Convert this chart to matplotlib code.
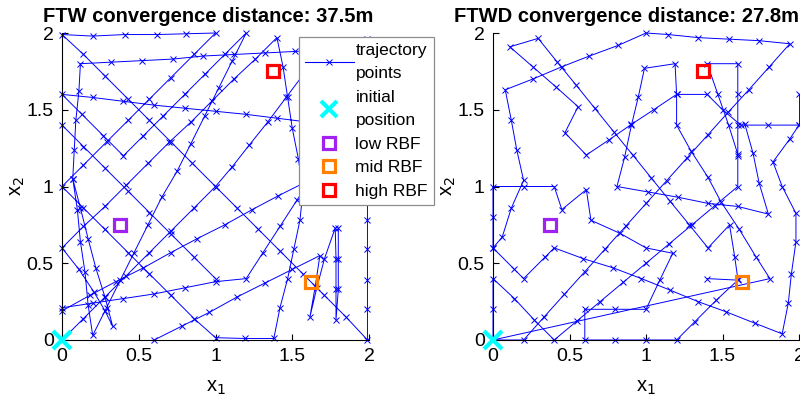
import matplotlib
matplotlib.use("Agg")
import matplotlib.pyplot as plt
from matplotlib.lines import Line2D

plt.rcParams["font.family"] = ["Liberation Sans", "DejaVu Sans"]

# --- FTW trajectory (several pieces of the same path)
ftw_paths = [
    # right edge, anti-diagonal, top, diagonals, up near x=1.5, back to the left edge ...
    ([1.99, 1.99, 1.99, 1.99, 1.99, 1.99, 1.99, 1.99, 1.99, 1.99, 1.99,
      1.85, 1.71, 1.57, 1.42, 1.28, 1.14, 1.0, 0.85, 0.71, 0.57, 0.43, 0.28, 0.14, 0.0,
      0.2, 0.41, 0.62, 0.81, 1.0,
      0.86, 0.71, 0.57, 0.43, 0.29, 0.14, 0.0,
      0.14, 0.28, 0.43, 0.57, 0.71, 0.86, 1.0,
      1.19, 1.38,
      1.42, 1.47, 1.51, 1.55, 1.57, 1.54, 1.50, 1.47, 1.44, 1.40,
      1.26, 1.12, 0.98, 0.84, 0.70, 0.56, 0.42, 0.28, 0.14, 0.0,
      0.11, 0.21, 0.28, 0.33,
      0.28, 0.22, 0.17, 0.12, 0.07,
      0.10, 0.12, 0.15, 0.17, 0.2,
      0.29, 0.38, 0.47, 0.56, 0.65, 0.75, 0.84, 0.93, 1.02, 1.11, 1.2,
      1.06, 0.93, 0.80, 0.66, 0.53, 0.4, 0.27, 0.13, 0.0,
      0.2, 0.4, 0.6, 0.8, 1.0, 1.2, 1.4, 1.6, 1.8],
     [1.96, 1.77, 1.57, 1.37, 1.18, 0.98, 0.78, 0.59, 0.39, 0.2, 0.0,
      0.15, 0.29, 0.43, 0.58, 0.72, 0.86, 1.0, 1.15, 1.29, 1.43, 1.57, 1.72, 1.86, 1.99,
      1.98, 1.99, 1.99, 1.995, 2.0,
      1.86, 1.71, 1.57, 1.43, 1.29, 1.14, 1.0,
      0.86, 0.72, 0.57, 0.43, 0.29, 0.14, 0.015,
      0.01, 0.01,
      0.21, 0.40, 0.59, 0.78, 0.97, 1.18, 1.38, 1.58, 1.78, 1.97,
      1.83, 1.70, 1.56, 1.42, 1.29, 1.15, 1.01, 0.87, 0.74, 0.60,
      0.46, 0.31, 0.19, 0.09,
      0.28, 0.47, 0.66, 0.86, 1.05,
      0.85, 0.64, 0.44, 0.23, 0.03,
      0.21, 0.39, 0.57, 0.75, 0.93, 1.10, 1.28, 1.46, 1.64, 1.82, 2.0,
      1.86, 1.73, 1.60, 1.46, 1.33, 1.2, 1.33, 1.47, 1.6,
      1.58, 1.555, 1.53, 1.51, 1.49, 1.47, 1.445, 1.42, 1.40]),
    ([0.0, 0.14, 0.28, 0.42, 0.57, 0.71, 0.86, 1.0, 1.11, 1.22, 1.34, 1.46, 1.58],
     [0.0, 0.14, 0.28, 0.42, 0.57, 0.71, 0.86, 1.0, 1.13, 1.27, 1.42, 1.58, 1.74]),
    ([0.0, 0.14, 0.28, 0.43, 0.57, 0.71, 0.86, 1.0],
     [1.4, 1.26, 1.12, 0.97, 0.83, 0.69, 0.54, 0.4]),
    ([0.0, 0.2, 0.4, 0.6, 0.8, 1.0, 1.2, 1.31, 1.42, 1.53, 1.64],
     [0.21, 0.24, 0.27, 0.30, 0.34, 0.38, 0.40, 0.57, 0.74, 0.91, 1.08]),
    ([0.0, 0.18, 0.35, 0.53, 0.71, 0.88, 1.06, 1.24, 1.41, 1.59],
     [0.19, 0.29, 0.38, 0.47, 0.57, 0.66, 0.75, 0.85, 0.94, 1.03]),
    ([0.6, 0.78, 0.96, 1.14, 1.32, 1.5, 1.68, 1.65, 1.615, 1.66, 1.71, 1.78,
      1.785, 1.785, 1.785, 1.80, 1.80, 1.80],
     [0.0, 0.09, 0.18, 0.28, 0.37, 0.46, 0.55, 0.35, 0.15, 0.34, 0.53, 0.73,
      0.53, 0.33, 0.13, 0.33, 0.53, 0.73]),
    ([0.07, 0.08, 0.09, 0.11, 0.12, 0.32, 0.52, 0.72, 0.92, 1.12, 1.32, 1.52, 1.72, 1.92],
     [1.05, 1.24, 1.43, 1.62, 1.80, 1.81, 1.82, 1.83, 1.85, 1.86, 1.87, 1.88, 1.89, 1.90]),
]

# --- FTWD trajectory
ftwd_paths = [
    ([0.0, 0.0, 0.0, 0.14, 0.27, 0.4, 0.55, 0.7, 0.85, 1.0, 1.15, 1.3, 1.45, 1.6,
      1.6, 1.6, 1.6, 1.6, 1.4, 1.47, 1.54, 1.6],
     [0.0, 0.2, 0.4, 0.27, 0.13, 0.0, 0.125, 0.25, 0.375, 0.5, 0.625, 0.75, 0.875, 1.0,
      1.2, 1.4, 1.6, 1.8, 1.8, 1.6, 1.4, 1.21]),
    ([1.4, 1.6, 1.46, 1.32, 1.2, 1.0, 0.8, 0.6, 0.6, 0.8, 1.0, 1.09, 1.175, 1.0, 0.83,
      0.64, 0.61, 0.45, 0.4, 0.2, 0.0, 0.0, 0.0, 0.14, 0.2, 0.34, 0.4,
      0.59, 0.785, 0.97, 1.155, 1.34, 1.52, 1.71, 1.89,
      1.93, 1.95, 1.98, 1.98, 1.89, 1.83, 1.94, 2.0, 1.8, 1.62, 1.5, 1.4, 1.2,
      1.05, 0.905, 0.76, 0.61, 0.47, 0.556, 0.41, 0.26, 0.11, 0.295,
      0.418, 0.542, 0.665, 0.788, 0.912, 1.035, 1.158, 1.282, 1.405,
      1.546, 1.58, 1.6],
     [0.4, 0.39, 0.26, 0.12, 0.0, 0.0, 0.0, 0.0, 0.2, 0.2, 0.2, 0.39, 0.565, 0.6, 0.695,
      0.78, 0.98, 0.85, 1.0, 1.0, 1.0, 0.8, 0.6, 0.46, 0.4, 0.54, 0.6,
      0.53, 0.47, 0.40, 0.326, 0.25, 0.185, 0.11, 0.04,
      0.24, 0.43, 0.64, 0.825, 1.0, 1.16, 1.31, 1.4, 1.4, 1.4, 1.5, 1.6, 1.6,
      1.50, 1.405, 1.305, 1.205, 1.35, 1.52, 1.65, 1.78, 1.91, 1.965,
      1.813, 1.662, 1.51, 1.358, 1.207, 1.055, 0.903, 0.752, 0.6,
      0.75, 0.54, 0.4]),
    ([0.0, 0.06, 0.12, 0.2, 0.155, 0.12, 0.08, 0.26, 0.45, 0.63, 0.82, 1.0,
      1.145, 1.34, 1.54, 1.74, 1.94,
      1.806, 1.672, 1.538, 1.404, 1.27, 1.136, 1.002, 0.868, 0.734, 0.6,
      0.466, 0.332, 0.2, 0.0],
     [0.6, 0.67, 0.86, 1.04, 1.24, 1.43, 1.63, 1.70, 1.78, 1.85, 1.92, 2.0,
      1.99, 1.97, 1.96, 1.95, 1.93,
      1.78, 1.63, 1.485, 1.336, 1.188, 1.039, 0.891, 0.742, 0.594, 0.445,
      0.297, 0.148, 0.0, 0.0]),
    ([0.0, 1.81, 1.72, 1.61, 1.49, 1.405, 1.295, 1.2, 1.2, 1.19, 0.99, 0.95, 0.905,
      0.86, 0.81, 1.01, 1.21, 1.405, 1.60, 1.80, 1.74, 1.70, 1.645],
     [0.0, 0.40, 0.54, 0.72, 0.90, 1.06, 1.23, 1.4, 1.6, 1.80, 1.77, 1.585, 1.40,
      1.19, 1.0, 0.965, 0.93, 0.89, 0.87, 0.82, 1.02, 1.215, 1.41]),
    ([2.0, 2.0], [1.4, 1.6]),
]

titles = ["FTW convergence distance: 37.5m", "FTWD convergence distance: 27.8m"]
title_x = [0.476, 0.435]

init_pos = (0.0, 0.0)
rbf_low = (0.375, 0.75)
rbf_mid = (1.625, 0.375)
rbf_high = (1.375, 1.75)

ticks = [0, 0.5, 1, 1.5, 2]
tick_labels = ["0", "0.5", "1", "1.5", "2"]

fig = plt.figure(figsize=(8, 4.09), dpi=100)
ax1 = fig.add_axes([62 / 800, 69 / 409, 307 / 800, 307 / 409])
ax2 = fig.add_axes([493 / 800, 69 / 409, 306 / 800, 307 / 409])

for ax, paths, title, tx in zip([ax1, ax2], [ftw_paths, ftwd_paths], titles, title_x):
    for px, py in paths:
        ax.plot(px, py, "-x", color="b", lw=0.7, ms=5, mew=0.7, clip_on=False, zorder=2)
    ax.plot(*init_pos, "x", color="cyan", ms=13, mew=3, clip_on=False, zorder=5)
    ax.plot(*rbf_low, "s", mfc="none", mec=(0.63, 0.13, 0.94), ms=9, mew=2.3, zorder=4)
    ax.plot(*rbf_mid, "s", mfc="none", mec=(1.0, 0.5, 0.0), ms=9, mew=2.3, zorder=4)
    ax.plot(*rbf_high, "s", mfc="none", mec="red", ms=9, mew=2.3, zorder=4)

    ax.set_xlim(0, 2)
    ax.set_ylim(0, 2)
    ax.set_xticks(ticks)
    ax.set_xticklabels(tick_labels)
    ax.set_yticks(ticks)
    ax.set_yticklabels(tick_labels)
    ax.tick_params(direction="in", length=4, width=0.8, labelsize=14, pad=6)
    ax.spines["top"].set_visible(False)
    ax.spines["right"].set_visible(False)
    ax.set_xlabel("x$_1$", fontsize=14.5, labelpad=9)
    ax.set_ylabel("x$_2$", fontsize=14.5, labelpad=0)
    ax.set_title(title, fontsize=14.5, fontweight="bold", x=tx, pad=8)

handles = [
    Line2D([], [], color="b", lw=0.8, marker="x", ms=5, mew=0.7),
    Line2D([], [], color="cyan", ls="none", marker="x", ms=11, mew=3),
    Line2D([], [], ls="none", marker="s", mfc="none", mec=(0.63, 0.13, 0.94), ms=9, mew=2.3),
    Line2D([], [], ls="none", marker="s", mfc="none", mec=(1.0, 0.5, 0.0), ms=9, mew=2.3),
    Line2D([], [], ls="none", marker="s", mfc="none", mec="red", ms=9, mew=2.3),
]
labels = ["trajectory\npoints", "initial\nposition", "low RBF", "mid RBF", "high RBF"]
leg = ax1.legend(handles, labels, loc="upper left", bbox_to_anchor=(299 / 800, 1 - 37 / 409),
                 bbox_transform=fig.transFigure, borderaxespad=0, fontsize=12.5,
                 fancybox=False, edgecolor="0.55", framealpha=1, handlelength=2.8,
                 handletextpad=0.1, labelspacing=0.48, borderpad=0.35)
leg.get_frame().set_linewidth(0.9)
for t in leg.get_texts():
    t.set_linespacing(1.7)

fig.savefig("out.png", dpi=100)
